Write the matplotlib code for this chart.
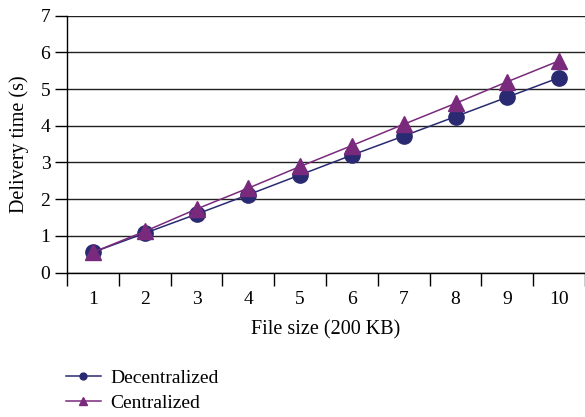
import matplotlib
matplotlib.use("Agg")
import matplotlib.pyplot as plt
import numpy as np

file_sizes = [1, 2, 3, 4, 5, 6, 7, 8, 9, 10]
decentralized = [0.55, 1.07, 1.59, 2.12, 2.66, 3.20, 3.72, 4.25, 4.78, 5.31]
centralized = [0.55, 1.12, 1.73, 2.30, 2.89, 3.46, 4.04, 4.61, 5.20, 5.77]
y_ticks = [0, 1, 2, 3, 4, 5, 6, 7]

plt.rcParams['font.family'] = ['Liberation Serif', 'DejaVu Serif']

fig = plt.figure(figsize=(5.85, 4.17), dpi=100)
ax = fig.add_axes([67/585, 1-272.5/417, 1-67/585, (272.5-15.7)/417])

c_dec = '#2a2a72'
c_cen = '#7a2a7c'

ax.plot(file_sizes, decentralized, color=c_dec, lw=1.1, marker='o', ms=11, label='Decentralized', zorder=3)
ax.plot(file_sizes, centralized, color=c_cen, lw=1.1, marker='^', ms=12, label='Centralized', zorder=4)

ax.set_xlim(0.5, 10.5)
ax.set_ylim(0, 7)
ax.set_yticks(y_ticks)
ax.yaxis.grid(True, color='#222222', lw=1.0)
ax.set_axisbelow(True)

ax.set_xticks(np.arange(0.5, 11, 1))
ax.set_xticklabels([])
ax.set_xticks(file_sizes, minor=True)
ax.set_xticklabels([str(v) for v in file_sizes], minor=True)
ax.tick_params(axis='x', which='major', length=9, width=1, color='black', direction='out')
ax.tick_params(axis='x', which='minor', length=0, pad=13, labelsize=14)
ax.tick_params(axis='y', length=9, width=1, direction='out', labelsize=14, pad=3)

for s in ['top', 'right']:
    ax.spines[s].set_visible(False)
for s in ['left', 'bottom']:
    ax.spines[s].set_linewidth(1.0)
    ax.spines[s].set_color('black')

ax.set_xlabel('File size (200 KB)', fontsize=14.5, labelpad=9)
ax.set_ylabel('Delivery time (s)', fontsize=14.5, labelpad=8)

leg = fig.legend(loc='lower left', bbox_to_anchor=(48/585, -0.03), frameon=False,
                 fontsize=14, handlelength=1.8, handletextpad=0.5, labelspacing=0.4,
                 markerscale=0.45)

fig.savefig('out.png', dpi=100)
